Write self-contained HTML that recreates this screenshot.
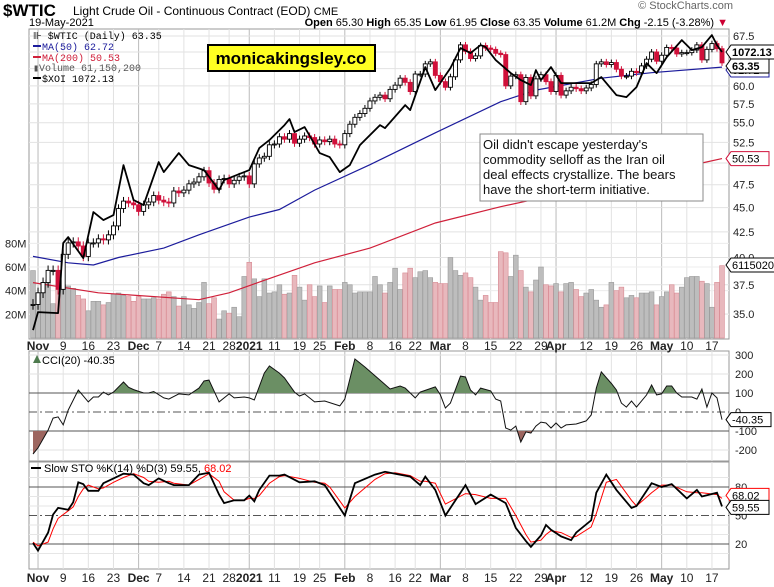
<!DOCTYPE html>
<html><head><meta charset="utf-8">
<style>
html,body{margin:0;padding:0;background:#fff;}
body{width:774px;height:587px;overflow:hidden;position:relative;font-family:"Liberation Sans",Arial,sans-serif;}
svg{position:absolute;left:0;top:0;}
.t{font-family:"Liberation Sans",Arial,sans-serif;}
</style></head>
<body>
<svg id="chart" width="774" height="587" viewBox="0 0 774 587" xmlns="http://www.w3.org/2000/svg"></svg>
<script>
// ---------- DATA ----------
const closes = [35.8,
36.8,37.7,38.8,38.8,37.1,40.3,41.4,41.5,41.1,40.1,41.4,41.4,41.8,41.7,42.2,43.1,44.9,45.7,45.5,45.3,
44.6,45.3,45.6,46.3,45.8,45.6,45.5,46.8,46.6,46.9,47.6,47.8,48.4,49.1,47.7,47.0,48.1,48.2,47.6,48.0,48.4,48.5,
47.6,49.9,50.6,50.8,52.2,52.3,53.2,52.9,53.6,52.4,52.9,53.3,53.1,52.3,52.8,52.6,52.9,52.3,52.2,
53.6,54.8,55.7,56.2,56.9,57.9,58.4,58.7,58.2,59.5,60.1,61.1,60.5,59.2,61.7,61.7,63.2,63.5,61.5,
60.6,59.8,61.3,63.8,66.1,65.1,64.0,64.4,66.0,65.6,65.4,64.8,64.6,60.0,61.4,61.6,57.8,61.2,58.6,61.0,61.6,60.6,59.2,
61.5,58.7,59.3,59.8,59.6,59.3,59.7,60.2,63.2,63.5,63.1,63.4,62.4,61.4,61.4,62.1,61.9,62.9,63.9,65.0,63.6,
64.5,65.7,65.6,64.7,64.9,64.9,65.3,66.1,63.8,65.4,66.3,65.5,63.35];
const volumes = [57,38,47,49,29,55,45,44,42,36,33,23,31,31,28,30,37,38,36,35,31,35,33,33,34,33,37,39,35,27,35,28,25,30,47,29,34,16,23,21,26,18,52,64,50,35,50,38,39,45,37,38,53,43,32,45,35,44,30,44,41,41,47,45,38,39,39,
39,52,45,38,47,59,41,55,59,51,56,57,51,47,46,46,68,57,53,55,51,43,32,36,30,30,73,72,52,70,57,43,39,49,60,45,44,46,39,46,47,41,35,38,41,32,26,28,47,40,43,34,36,34,38,38,39,28,35,39,45,38,43,51,52,52,48,46,26,47,61.15];
const ma50Idx = [0,7,12,17,26,33,43,49,56,67,80,93,100,113,123,137];
const ma50Val = [40.1,39.5,39.3,40.0,40.9,42.2,44.0,44.8,46.9,49.8,53.7,57.8,59.4,61.1,61.9,62.72];
const ma200Idx = [0,13,33,39,46,56,67,80,93,133,137];
const ma200Val = [37.7,36.8,36.2,36.8,37.9,39.5,40.9,43.4,45.1,50.0,50.53];
const xoiIdx = [0,1,5,6,7,10,12,14,16,18,20,22,25,26,29,31,34,37,38,43,45,47,50,51,52,54,57,59,61,63,65,66,69,70,74,75,78,80,83,85,87,89,90,92,95,97,99,100,101,103,105,108,111,113,116,118,120,122,124,126,129,131,133,135,136,137];
const xoiVal = [516,552,550,690,702,660,752,736,746,846,776,766,852,832,870,846,836,796,816,836,880,896,926,938,912,922,870,862,832,846,886,896,926,920,966,956,1042,996,1040,1080,1070,1086,1082,1056,1030,1016,1006,1036,1016,1042,1010,1010,1010,1022,986,982,1002,1050,1030,1062,1096,1076,1082,1106,1086,1072.13];
const cciIdx = [0,1,3,4,5,6,7,9,11,12,13,14,15,16,18,19,20,22,23,24,26,27,29,31,33,34,35,37,39,40,42,43,44,46,47,49,50,52,53,54,56,58,61,62,64,66,69,71,73,74,76,77,80,81,82,83,85,86,87,88,89,91,92,93,94,95,96,97,98,99,100,101,102,103,104,105,106,108,110,111,112,113,115,116,117,118,119,120,122,123,124,125,126,127,128,129,131,132,133,134,135,136,137];
const cciVal = [-221,-189,-95,-32,-26,-68,10,116,53,79,79,105,90,105,158,130,118,100,100,108,74,68,95,90,126,163,168,53,95,74,79,74,63,205,242,205,179,105,84,95,53,58,32,68,279,237,168,121,137,126,74,105,132,90,21,47,189,184,116,90,126,111,68,58,-84,-95,-74,-158,-105,-111,-74,-53,-58,-84,-58,-84,-68,-63,-47,-16,126,211,150,116,47,26,58,26,90,142,90,95,137,137,100,79,79,68,121,26,100,74,-40.35];
const stoIdx = [0,1,3,4,5,7,8,9,10,11,13,14,16,18,20,22,23,25,27,28,31,33,35,37,38,40,42,43,44,45,47,49,50,53,56,58,59,62,64,68,70,72,75,77,78,80,82,86,88,91,94,96,98,99,101,102,103,105,107,108,111,112,114,116,119,120,123,125,127,130,132,133,136,137];
const stoK = [21,13,32,51,58,56,64,85,83,76,76,84,89,94,93,84,82,89,84,82,82,93,95,72,63,66,66,71,65,77,92,92,93,85,86,82,74,50,84,93,96,94,91,82,91,77,50,82,62,72,63,37,23,17,29,40,35,28,24,32,45,74,93,77,58,60,84,80,83,68,77,70,74,59.55];
const stoD = [22,18,22,36,47,55,59,70,78,82,78,79,85,90,94,90,86,85,86,84,82,88,94,86,75,66,66,68,68,71,84,91,92,89,85,84,80,58,70,88,94,95,92,86,86,84,62,73,72,68,68,50,30,22,24,30,34,32,27,28,38,52,85,88,66,60,74,82,82,75,74,74,72,68.02];
const dateLabels = ["Nov","9","16","23","Dec","7","14","21","28","2021","11","19","25","Feb","8","16","22","Mar","8","15","22","29","Apr","12","19","26","May","10","17"];
const dateIdx = [1,6,11,16,21,25,30,35,39,43,48,53,57,62,67,72,76,81,86,91,96,101,104,110,115,120,125,130,135];
const monthFlags = [1,0,0,0,1,0,0,0,0,1,0,0,0,1,0,0,0,1,0,0,0,0,1,0,0,0,1,0,0];
const priceTicks = [35.0,37.5,40.0,42.5,45.0,47.5,50.0,52.5,55.0,57.5,60.0,62.5,65.0,67.5];
const priceTickLabels = ["35.0","37.5","40.0","42.5","45.0","47.5","","52.5","55.0","57.5","60.0","","","67.5"];
const volTicks = [20,40,60,80];
const volTickLabels = ["20M","40M","60M","80M"];
const cciTicks = [300,200,100,0,-100,-200];
const cciTickLabels = ["300","200","100","0","-100","-200"];
const stoTicks = [80,50,20];
const stoTickLabels = ["80","50","20"];

// ---------- LAYOUT ----------
const L=29, R=729, X0=33, X1=722;
const N = closes.length;
const dx = (X1-X0)/(N-1);
const xi = i => X0 + i*dx;
const yP = p => 36 + 423.3*Math.log(67.5/p);
const yV = v => 338 - 1.183*v;
const yX = v => 52 + (1072.13 - v)*0.5;
const yC = v => 412 - 0.19*v;
const yS = v => 563 - 0.95*v;

const svg = document.getElementById('chart');
const NS = 'http://www.w3.org/2000/svg';
function mk(tag, attrs, parent){ const e=document.createElementNS(NS,tag); for(const k in attrs) e.setAttribute(k,attrs[k]); (parent||svg).appendChild(e); return e; }
function txt(s, attrs, parent){ const e=mk('text',attrs,parent); e.textContent=s; return e; }
function g(){ return mk('g',{}); }

const panels=[[29,339],[351,461],[462,569]];
panels.forEach((p,k)=>{
  const r=mk('rect',{x:L,y:p[0],width:R-L,height:p[1]-p[0],fill:'#fff',stroke:'#999','stroke-width':1});
  
  
});

const vg = g();


dateIdx.forEach((d,k)=>{
  panels.forEach(p=>{
    const ln=mk('line',{x1:xi(d),x2:xi(d),y1:p[0],y2:p[1],stroke:monthFlags[k]?'#bbb':'#e2e2e2','stroke-width':1},vg);
    
    
  });
});
const pg=g();


priceTicks.forEach((p,k)=>{
  const ln=mk('line',{x1:L,x2:R,y1:yP(p),y2:yP(p),stroke:'#e2e2e2'},pg);
  
  
  const t=txt(priceTickLabels[k],{x:733,y:yP(p)+4,'font-size':11,fill:'#222',class:'t'},pg);
  
  
});
volTicks.forEach((v,k)=>{
  const ln=mk('line',{x1:L,x2:R,y1:yV(v),y2:yV(v),stroke:'#ececec'},pg);
  
  
  const t=txt(volTickLabels[k],{x:5,y:yV(v)+4,'font-size':11,fill:'#222',class:'t'},pg);
  
  
});

const vgp=g();


volumes.forEach((v,i)=>{
  const down = i>0 && closes[i]<closes[i-1];
  const b=mk('rect',{x:xi(i)-2.4,y:yV(v),width:4.8,height:338-yV(v),fill:down?'#e8b8bd':'#bdbdbd',stroke:down?'#d88a93':'#999','stroke-width':0.6},vgp);
  
  
});

function polyFrom(idx, vals, yf){ return idx.map((d,k)=>xi(d).toFixed(1)+','+yf(vals[k]).toFixed(1)).join(' '); }
const m200=mk('polyline',{points:polyFrom(ma200Idx,ma200Val,yP),fill:'none',stroke:'#d0203a','stroke-width':1.2});


const m50=mk('polyline',{points:polyFrom(ma50Idx,ma50Val,yP),fill:'none',stroke:'#1c1c9c','stroke-width':1.2});



const cg=g();


closes.forEach((c,i)=>{
  const o = i>0?closes[i-1]:c;
  const up = c>=o;
  const col = up?'#000':'#d0103a';
  const hi=Math.max(o,c)+0.45, lo=Math.min(o,c)-0.45;
  const w=mk('line',{x1:xi(i),x2:xi(i),y1:yP(hi),y2:yP(lo),stroke:col,'stroke-width':1},cg);
  
  
  const top=yP(Math.max(o,c)), bot=yP(Math.min(o,c));
  const b=mk('rect',{x:xi(i)-2,y:top,width:4,height:Math.max(1,bot-top),fill:up?'#fff':'#d0103a',stroke:col,'stroke-width':0.9},cg);
  
  
});

const xl=mk('polyline',{points:polyFrom(xoiIdx,xoiVal,yX),fill:'none',stroke:'#000','stroke-width':1.8,'stroke-linejoin':'round'});



const ccg=g();


cciTicks.forEach((v,k)=>{
  const solid = (v===100||v===-100), zero=(v===0);
  const ln=mk('line',{x1:L,x2:R,y1:yC(v),y2:yC(v),stroke:solid||zero?'#555':'#e2e2e2','stroke-width':1,'stroke-dasharray':zero?'8,3,2,3':'none'},ccg);
  
  
  const t=txt(cciTickLabels[k],{x:735,y:yC(v)+4,'font-size':11,fill:'#222',class:'t'},ccg);
  
  
});
const cciPts = polyFrom(cciIdx,cciVal,yC);
const defs=mk('defs',{});
const cp1=mk('clipPath',{id:'above'},defs); mk('rect',{x:L,y:351,width:R-L,height:yC(100)-351},cp1);
const cp2=mk('clipPath',{id:'below'},defs); mk('rect',{x:L,y:yC(-100),width:R-L,height:461-yC(-100)},cp2);
const a1=mk('polygon',{points:xi(cciIdx[0])+','+yC(100)+' '+cciPts+' '+xi(cciIdx[cciIdx.length-1])+','+yC(100),fill:'#6b8f64','clip-path':'url(#above)'});


const a2=mk('polygon',{points:xi(cciIdx[0])+','+yC(-100)+' '+cciPts+' '+xi(cciIdx[cciIdx.length-1])+','+yC(-100),fill:'#9d6660','clip-path':'url(#below)'});


const cl=mk('polyline',{points:cciPts,fill:'none',stroke:'#111','stroke-width':1});



const sg=g();


[90,70,60,40,30,10].forEach(v=>{
  const ln=mk('line',{x1:L,x2:R,y1:yS(v),y2:yS(v),stroke:'#e6e6e6'},sg);
  
  
});
stoTicks.forEach((v,k)=>{
  const ln=mk('line',{x1:L,x2:R,y1:yS(v),y2:yS(v),stroke:'#555','stroke-dasharray':v===50?'8,3,2,3':'none'},sg);
  
  
  const t=txt(stoTickLabels[k],{x:735,y:yS(v)+4,'font-size':11,fill:'#222',class:'t'},sg);
  
  
});
const dl=mk('polyline',{points:polyFrom(stoIdx,stoD,yS),fill:'none',stroke:'#f00','stroke-width':1});


const kl=mk('polyline',{points:polyFrom(stoIdx,stoK,yS),fill:'none',stroke:'#000','stroke-width':1.8});



[346,578].forEach((yy,r)=>{
  dateLabels.forEach((s,k)=>{
    const t=txt(s,{x:xi(dateIdx[k]),y:yy+4,'font-size':12,'text-anchor':'middle','font-weight':monthFlags[k]?'bold':'normal',fill:'#222',class:'t'});
    
    
  });
});

function tag(x,y,s,col,bold,w,name){
  const gg=g();
  
  
  mk('polygon',{points:`${x},${y} ${x+5},${y-7} ${x+5+w},${y-7} ${x+5+w},${y+7} ${x+5},${y+7}`,fill:'#fff',stroke:col,'stroke-width':1},gg);
  txt(s,{x:x+6,y:y+4,'font-size':11,'font-weight':bold?'bold':'normal',fill:'#000',class:'t'},gg);
}
tag(726,70,'62.72','#1c1c9c',false,38,'ma50-tag');
tag(726,52,'1072.13','#000',true,44,'xoi-tag');
tag(726,66,'63.35','#000',true,38,'price-tag');
tag(726,yP(50.53),'50.53','#d0103a',false,38,'ma200-tag');
tag(726,265,'61150200','#000',false,50,'volume-tag');
tag(726,yC(-40.35),'-40.35','#000',false,40,'cci-tag');
tag(726,yS(68.02)-3,'68.02','#f00',false,38,'sto-d-tag');
tag(726,yS(59.55)+1,'59.55','#000',false,38,'sto-k-tag');
</script>
<svg width="774" height="587" style="pointer-events:none">
  <g font-family="Liberation Sans, Arial, sans-serif">
    <text x="3" y="16" font-size="17" font-weight="bold" fill="#000">$WTIC</text>
    <text x="73" y="15" font-size="12" fill="#000">Light Crude Oil - Continuous Contract (EOD) <tspan font-size="11">CME</tspan></text>
    <text x="29" y="26" font-size="11" fill="#000">19-May-2021</text>
    <text x="733" y="9" font-size="11" fill="#666" text-anchor="end">© StockCharts.com</text>
    <text x="728" y="26" font-size="11" fill="#000" text-anchor="end"><tspan font-weight="bold">Open</tspan> 65.30  <tspan font-weight="bold">High</tspan> 65.35  <tspan font-weight="bold">Low</tspan> 61.95  <tspan font-weight="bold">Close</tspan> 63.35  <tspan font-weight="bold">Volume</tspan> 61.2M  <tspan font-weight="bold">Chg</tspan> -2.15 (-3.28%) <tspan fill="#c03">▼</tspan></text>
  </g>
  <g font-family="Liberation Mono, DejaVu Sans Mono, monospace" font-size="10">
    <text x="33" y="39" fill="#000">⊪ $WTIC (Daily) 63.35</text>
    <line x1="33" x2="41" y1="46" y2="46" stroke="#1c1c9c" stroke-width="2"/>
    <text x="42" y="50" fill="#1c1c9c">MA(50) 62.72</text>
    <line x1="33" x2="41" y1="57" y2="57" stroke="#d0203a" stroke-width="2"/>
    <text x="42" y="61" fill="#d0203a">MA(200) 50.53</text>
    <text x="33" y="71" fill="#555">▮Volume 61,150,200</text>
    <line x1="33" x2="41" y1="78" y2="78" stroke="#000" stroke-width="2"/>
    <text x="42" y="82" fill="#000">$XOI 1072.13</text>
  </g>
  <g>
    <rect x="208" y="45" width="167" height="26" fill="#ffff22" stroke="#000" stroke-width="2"/>
    <text x="291" y="64" font-size="17" font-weight="bold" text-anchor="middle" font-family="Liberation Sans, Arial, sans-serif" fill="#000">monicakingsley.co</text>
  </g>
  <g font-family="Liberation Sans, Arial, sans-serif" font-size="13" fill="#111">
    <rect x="480" y="134" width="223" height="67" fill="#fff" stroke="#888" stroke-width="1"/>
    <text x="483" y="149">Oil didn't escape yesterday's</text>
    <text x="483" y="164">commodity selloff as the Iran oil</text>
    <text x="483" y="179">deal effects crystallize. The bears</text>
    <text x="483" y="194">have the short-term initiative.</text>
  </g>
  <g font-family="Liberation Sans, Arial, sans-serif" font-size="11">
    <polygon points="33,363 37,355 41,363" fill="#4d7a4d"/>
    <text x="42" y="364" fill="#000">CCI(20) -40.35</text>
    <line x1="31" x2="41" y1="468" y2="468" stroke="#000" stroke-width="2"/>
    <text x="44" y="472" fill="#000">Slow STO %K(14) %D(3) 59.55, <tspan fill="#f00">68.02</tspan></text>
  </g>
</svg>
</body></html>
